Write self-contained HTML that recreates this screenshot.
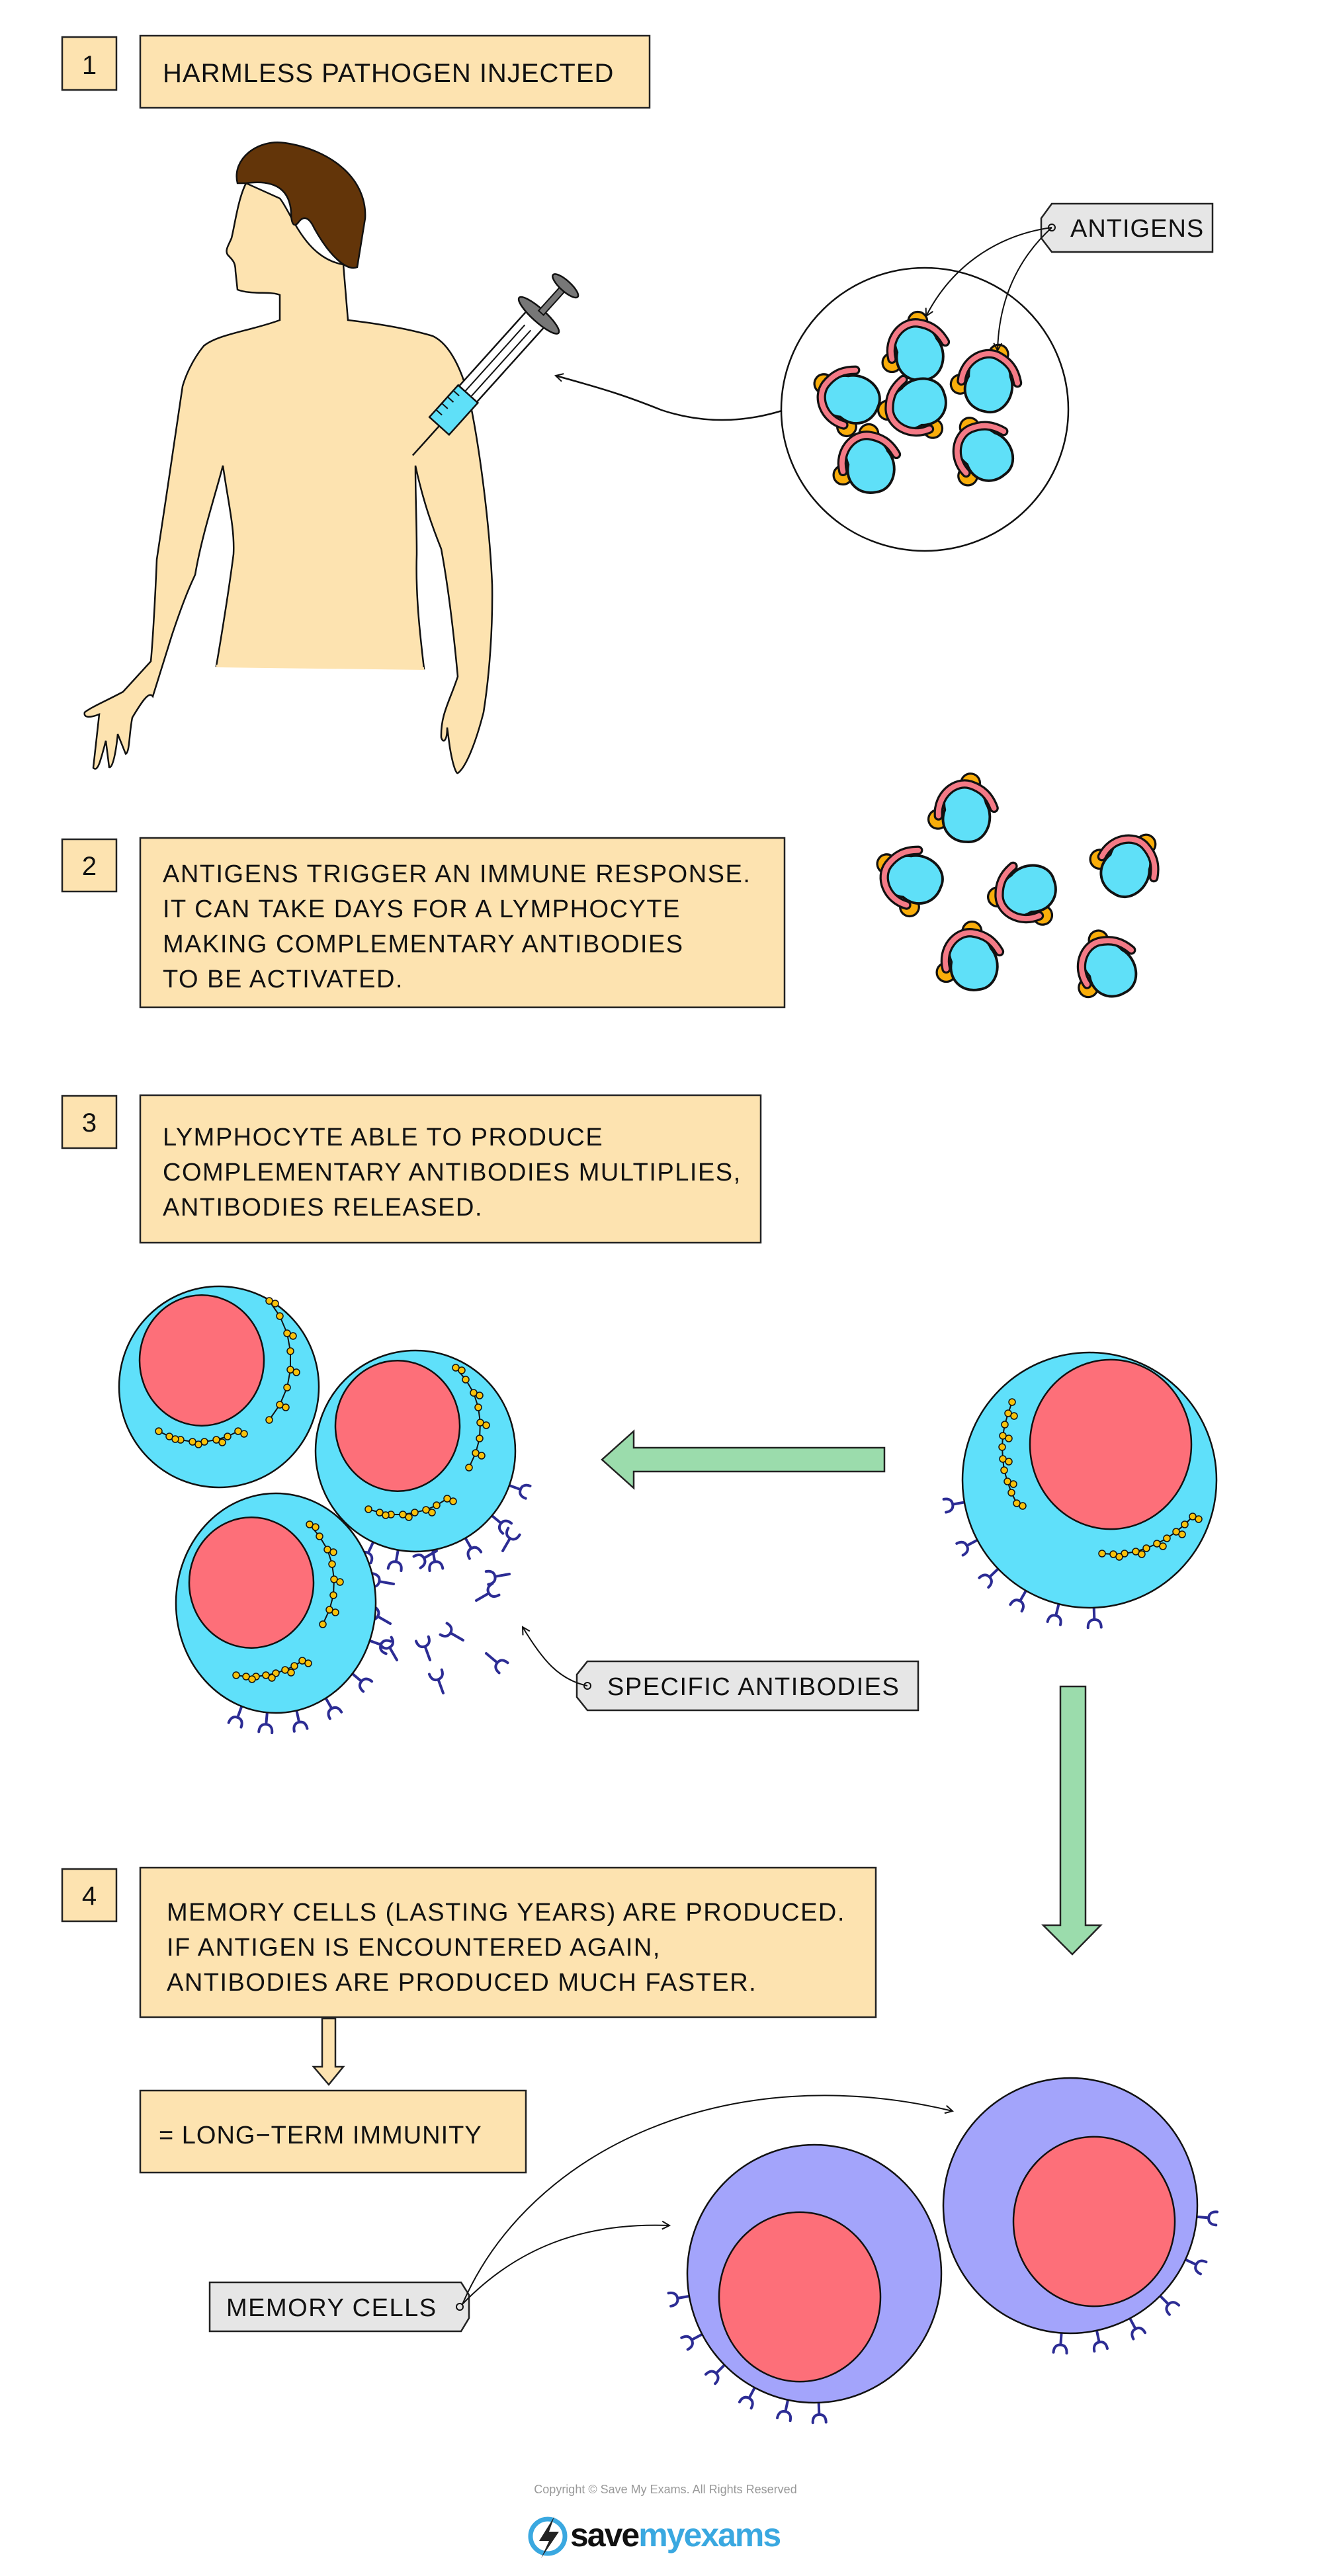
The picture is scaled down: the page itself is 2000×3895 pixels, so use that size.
<!DOCTYPE html>
<html><head><meta charset="utf-8">
<style>
html,body{margin:0;padding:0;background:#fff;}
svg{display:block;}
text{font-family:"Liberation Sans",sans-serif;fill:#111;}
</style></head>
<body>
<svg id="s" width="2000" height="3895" viewBox="0 0 2000 3895" xmlns="http://www.w3.org/2000/svg">
<defs>
<g id="ag0">
  <circle cx="-2" cy="-34" r="11" fill="#f9ad0a" stroke="#111" stroke-width="2.5"/>
  <circle cx="-32" cy="14" r="11" fill="#f9ad0a" stroke="#111" stroke-width="2.5"/>
  <path d="M-24,-22 C-8,-34 14,-30 20,-14 C34,2 28,32 6,34 C-14,38 -30,22 -26,2 C-30,-8 -30,-16 -24,-22 Z" fill="#5fe0f8" stroke="#111" stroke-width="3"/>
  <path d="M-32,10 C-38,-14 -20,-34 -2,-32 C12,-30 22,-24 30,-10" fill="none" stroke="#111" stroke-width="11" stroke-linecap="round"/>
  <path d="M-32,10 C-38,-14 -20,-34 -2,-32 C12,-30 22,-24 30,-10" fill="none" stroke="#f47a86" stroke-width="6" stroke-linecap="round"/>
</g>
<g id="ag"><use href="#ag0" transform="scale(1.3)"/></g>
<g id="ab">
  <path d="M0,0 L0,-22 M0,-22 C-9,-22 -10,-30 -10,-34 M0,-22 C9,-22 10,-30 10,-34" fill="none" stroke="#2c2c94" stroke-width="4" stroke-linecap="round"/>
</g>
<marker id="ah" markerWidth="14" markerHeight="14" refX="12" refY="7" orient="auto" markerUnits="userSpaceOnUse">
  <path d="M1,1 L12,7 L1,13" fill="none" stroke="#111" stroke-width="2"/>
</marker>
</defs>

<!-- Step 1 -->
<rect x="94" y="56" width="82" height="80" fill="#fde3b0" stroke="#222" stroke-width="2.5"/>
<text x="135" y="112" font-size="40" text-anchor="middle">1</text>
<rect x="212" y="54" width="770" height="109" fill="#fde3b0" stroke="#222" stroke-width="2.5"/>
<text x="246" y="124" font-size="40" letter-spacing="1">HARMLESS  PATHOGEN  INJECTED</text>

<!-- man -->
<path d="M372,277 C360,300 355,340 350,360 C345,372 340,378 344,385 C350,392 356,395 356,410 L359,438 C380,446 410,440 423,446 L423,484 C380,500 330,505 308,523 C290,545 280,570 276,584 C265,660 250,760 237,846 C234,920 230,980 228,1000 L186,1046 C160,1060 140,1068 128,1077 C126,1085 135,1086 150,1080 L141,1161 C148,1168 152,1150 160,1120 L165,1160 C170,1162 175,1140 178,1110 L190,1140 C196,1138 195,1110 200,1085 C215,1060 225,1045 231,1053 L260,960 C280,900 290,880 295,869 C305,810 325,750 337,704 C345,760 355,800 353,838 C345,900 335,960 327,1007 L641,1011 C635,960 628,900 630,838 C630,790 628,750 628,704 C640,760 655,800 667,830 C680,900 688,980 692,1023 C680,1060 666,1080 667,1115 C670,1125 676,1120 676,1100 L680,1130 C685,1160 690,1170 692,1169 C705,1160 720,1120 731,1077 C740,1020 745,950 744,884 C740,790 725,680 712,615 C700,560 680,520 654,508 C610,495 560,488 526,484 L519,400 C460,390 440,320 423,300 Z" fill="#fde3b0" stroke="#111" stroke-width="2.5"/>
<path d="M327,1007 L641,1011" stroke="#fde3b0" stroke-width="4"/>
<path d="M359,277 C350,240 390,210 430,216 C500,226 555,270 552,330 L540,404 C525,410 500,390 475,345 C468,330 460,325 452,335 C445,345 440,340 440,320 C438,295 425,270 372,277 Z" fill="#633509" stroke="#111" stroke-width="2.5"/>

<!-- syringe -->
<g transform="translate(664,644) rotate(-48)">
  <line x1="0" y1="0" x2="-60" y2="0" stroke="#111" stroke-width="2.5"/>
  <rect x="0" y="-20" width="65" height="40" fill="#5fe0f8" stroke="#111" stroke-width="2.5"/>
  <rect x="65" y="-18" width="160" height="36" fill="#fff" stroke="#111" stroke-width="2.5"/>
  <line x1="65" y1="-6" x2="200" y2="-6" stroke="#111" stroke-width="2"/>
  <line x1="65" y1="6" x2="200" y2="6" stroke="#111" stroke-width="2"/>
  <ellipse cx="225" cy="0" rx="10" ry="40" fill="#777" stroke="#111" stroke-width="2.5"/>
  <rect x="230" y="-5" width="50" height="10" fill="#777" stroke="#111" stroke-width="2"/>
  <ellipse cx="285" cy="0" rx="8" ry="25" fill="#777" stroke="#111" stroke-width="2.5"/>
  <path d="M15,-20 v12 M28,-20 v12 M41,-20 v12 M54,-20 v12" stroke="#111" stroke-width="2"/>
</g>

<!-- circle -->
<ellipse cx="1398" cy="619" rx="217" ry="214" fill="#fff" stroke="#111" stroke-width="2.5"/>
<path d="M1182,621 C1120,640 1060,640 1000,620 C950,600 920,590 840,568" fill="none" stroke="#111" stroke-width="2.5" marker-end="url(#ah)"/>
<use href="#ag" transform="translate(1390,530)"/>
<use href="#ag" transform="translate(1497,578) rotate(20)"/>
<use href="#ag" transform="translate(1285,600) rotate(-60)"/>
<use href="#ag" transform="translate(1385,610) rotate(-100)"/>
<use href="#ag" transform="translate(1316,700)"/>
<use href="#ag" transform="translate(1490,683) rotate(-30)"/>

<!-- antigens label -->
<path d="M1590,308 L1833,308 L1833,381 L1590,381 L1574,360 L1574,330 Z" fill="#e6e6e6" stroke="#222" stroke-width="2.5"/>
<circle cx="1590" cy="344" r="5" fill="none" stroke="#111" stroke-width="2"/>
<text x="1618" y="358" font-size="38" letter-spacing="1">ANTIGENS</text>
<path d="M1590,344 C1510,355 1440,400 1400,478" fill="none" stroke="#111" stroke-width="2" marker-end="url(#ah)"/>
<path d="M1590,344 C1540,390 1510,450 1508,530" fill="none" stroke="#111" stroke-width="2" marker-end="url(#ah)"/>

<!-- Step 2 -->
<rect x="94" y="1269" width="82" height="79" fill="#fde3b0" stroke="#222" stroke-width="2.5"/>
<text x="135" y="1323" font-size="40" text-anchor="middle">2</text>
<rect x="212" y="1267" width="974" height="256" fill="#fde3b0" stroke="#222" stroke-width="2.5"/>
<text font-size="38" letter-spacing="1.5">
<tspan x="246" y="1334">ANTIGENS  TRIGGER  AN  IMMUNE  RESPONSE.</tspan>
<tspan x="246" y="1387">IT  CAN  TAKE  DAYS  FOR  A  LYMPHOCYTE</tspan>
<tspan x="246" y="1440">MAKING  COMPLEMENTARY  ANTIBODIES</tspan>
<tspan x="246" y="1493">TO  BE  ACTIVATED.</tspan>
</text>
<use href="#ag" transform="translate(1462,1228) rotate(10)"/>
<use href="#ag" transform="translate(1380,1326) rotate(-60)"/>
<use href="#ag" transform="translate(1551,1346) rotate(-100)"/>
<use href="#ag" transform="translate(1706,1312) rotate(40)"/>
<use href="#ag" transform="translate(1472,1452)"/>
<use href="#ag" transform="translate(1678,1462) rotate(-20)"/>

<!-- Step 3 -->
<rect x="94" y="1657" width="82" height="79" fill="#fde3b0" stroke="#222" stroke-width="2.5"/>
<text x="135" y="1711" font-size="40" text-anchor="middle">3</text>
<rect x="212" y="1656" width="938" height="223" fill="#fde3b0" stroke="#222" stroke-width="2.5"/>
<text font-size="38" letter-spacing="1.5">
<tspan x="246" y="1732">LYMPHOCYTE  ABLE  TO  PRODUCE</tspan>
<tspan x="246" y="1785">COMPLEMENTARY  ANTIBODIES  MULTIPLIES,</tspan>
<tspan x="246" y="1838">ANTIBODIES  RELEASED.</tspan>
</text>

<g id="cells3"></g>

<!-- green arrows -->
<path d="M1337,2189 L958,2189 L958,2164 L910,2207 L958,2250 L958,2225 L1337,2225 Z" fill="#9bdcac" stroke="#222" stroke-width="2.5"/>
<path d="M1603,2550 L1641,2550 L1641,2911 L1664,2911 L1621,2955 L1577,2911 L1603,2911 Z" fill="#9bdcac" stroke="#222" stroke-width="2.5"/>

<!-- specific antibodies label -->
<path d="M888,2512 L1388,2512 L1388,2586 L888,2586 L872,2566 L872,2532 Z" fill="#e6e6e6" stroke="#222" stroke-width="2.5"/>
<circle cx="888" cy="2549" r="5" fill="none" stroke="#111" stroke-width="2"/>
<text x="918" y="2563" font-size="38" letter-spacing="1.5">SPECIFIC  ANTIBODIES</text>
<path d="M888,2549 C845,2540 820,2510 790,2460" fill="none" stroke="#111" stroke-width="2" marker-end="url(#ah)"/>

<!-- Step 4 -->
<rect x="94" y="2826" width="82" height="79" fill="#fde3b0" stroke="#222" stroke-width="2.5"/>
<text x="135" y="2880" font-size="40" text-anchor="middle">4</text>
<rect x="212" y="2824" width="1112" height="226" fill="#fde3b0" stroke="#222" stroke-width="2.5"/>
<text font-size="38" letter-spacing="1.5">
<tspan x="252" y="2904">MEMORY  CELLS  (LASTING  YEARS)  ARE  PRODUCED.</tspan>
<tspan x="252" y="2957">IF  ANTIGEN  IS  ENCOUNTERED  AGAIN,</tspan>
<tspan x="252" y="3010">ANTIBODIES  ARE  PRODUCED  MUCH  FASTER.</tspan>
</text>
<path d="M487,3052 L507,3052 L507,3125 L519,3125 L497,3152 L474,3125 L487,3125 Z" fill="#fde3b0" stroke="#222" stroke-width="2.5"/>
<rect x="212" y="3161" width="583" height="124" fill="#fde3b0" stroke="#222" stroke-width="2.5"/>
<text x="240" y="3241" font-size="38" letter-spacing="1">= LONG−TERM  IMMUNITY</text>

<g id="mem"></g>

<!-- memory cells label -->
<path d="M317,3451 L697,3451 L709,3470 L709,3505 L697,3525 L317,3525 Z" fill="#e6e6e6" stroke="#222" stroke-width="2.5"/>
<circle cx="695" cy="3488" r="5" fill="none" stroke="#111" stroke-width="2"/>
<text x="342" y="3502" font-size="38" letter-spacing="1.5">MEMORY  CELLS</text>
<path d="M699,3484 C800,3250 1100,3110 1440,3192" fill="none" stroke="#111" stroke-width="2" marker-end="url(#ah)"/>
<path d="M699,3484 C780,3400 880,3360 1012,3365" fill="none" stroke="#111" stroke-width="2" marker-end="url(#ah)"/>

<!-- footer -->
<text x="1006" y="3770" font-size="18" text-anchor="middle" style="fill:#999">Copyright © Save My Exams. All Rights Reserved</text>
<circle cx="828" cy="3835" r="26" fill="none" stroke="#3aa8e0" stroke-width="7"/>
<path d="M838,3805 L815,3842 L830,3842 L818,3868 L845,3828 L830,3828 Z" fill="#222"/>
<text x="862" y="3850" font-size="50" font-weight="bold" letter-spacing="-2">save<tspan style="fill:#3aa8e0">myexams</tspan></text>
</svg>
<script>
var NS="http://www.w3.org/2000/svg";
function el(p,n,a){var e=document.createElementNS(NS,n);for(var k in a)e.setAttribute(k,a[k]);p.appendChild(e);return e;}
function ab(p,x,y,ang){el(p,"use",{href:"#ab",transform:"translate("+x+","+y+") rotate("+ang+")"});}
function abRing(p,cx,cy,rx,ry,angs){angs.forEach(function(a){var r=a*Math.PI/180;ab(p,cx+(rx-4)*Math.cos(r),cy+(ry-4)*Math.sin(r),a+90);});}
function chain(p,pts){var d="M"+pts.map(function(q){return q.join(",")}).join(" L");
 el(p,"path",{d:d,fill:"none",stroke:"#111","stroke-width":2});
 pts.forEach(function(q,i){el(p,"circle",{cx:q[0],cy:q[1],r:5,fill:"#f9c20a",stroke:"#111","stroke-width":1.5});
   if(i%2==0)el(p,"circle",{cx:q[0]+9,cy:q[1]+4,r:5,fill:"#f9c20a",stroke:"#111","stroke-width":1.5});});}
function arc(cx,cy,r,a0,a1,n){var o=[];for(var i=0;i<n;i++){var a=(a0+(a1-a0)*i/(n-1))*Math.PI/180;o.push([Math.round(cx+r*Math.cos(a)),Math.round(cy+r*Math.sin(a))]);}return o;}
function cell(p,cx,cy,rx,ry,nx,ny,nr,col){
 el(p,"ellipse",{cx:cx,cy:cy,rx:rx,ry:ry,fill:col,stroke:"#111","stroke-width":2.5});
 el(p,"ellipse",{cx:nx,cy:ny,rx:nr,ry:nr*1.05,fill:"#fd6f79",stroke:"#111","stroke-width":2.5});}
var c=document.getElementById("cells3");
// free antibodies
[[595,2395,-80],[660,2345,-120],[760,2345,30],[720,2420,60],[590,2455,-60],[600,2510,-30],[650,2510,-20],[700,2480,-60],[735,2500,130],[670,2560,-20],[770,2380,-100]].forEach(function(a){ab(c,a[0],a[1],a[2]);});
abRing(c,628,2194,151,152,[20,40,60,80,100,115]);
abRing(c,417,2424,151,166,[20,40,60,78,95,110]);
cell(c,331,2097,151,152,305,2057,94,"#5fe0fa");
chain(c,arc(300,2057,140,-40,40,8));chain(c,arc(300,2060,120,60,120,8));
cell(c,417,2424,151,166,380,2393,94,"#5fe0fa");
chain(c,arc(380,2393,125,-45,30,8));chain(c,arc(380,2400,135,55,100,8));
cell(c,628,2194,151,152,601,2156,94,"#5fe0fa");
chain(c,arc(601,2156,125,-45,30,8));chain(c,arc(601,2160,130,55,110,8));
// right big cell
abRing(c,1647,2238,192,193,[170,152,136,120,104,88]);
cell(c,1647,2238,192,193,1679,2184,122,"#5fe0fa");
chain(c,arc(1680,2190,165,150,205,10));chain(c,arc(1680,2190,160,40,95,10));
var m=document.getElementById("mem");
abRing(m,1231,3438,192,195,[170,152,135,118,102,88]);
abRing(m,1618,3335,192,193,[5,25,45,62,78,94]);
cell(m,1231,3438,192,195,1209,3473,122,"#a3a4fb");
cell(m,1618,3335,192,193,1654,3359,122,"#a3a4fb");
</script>
</body></html>
